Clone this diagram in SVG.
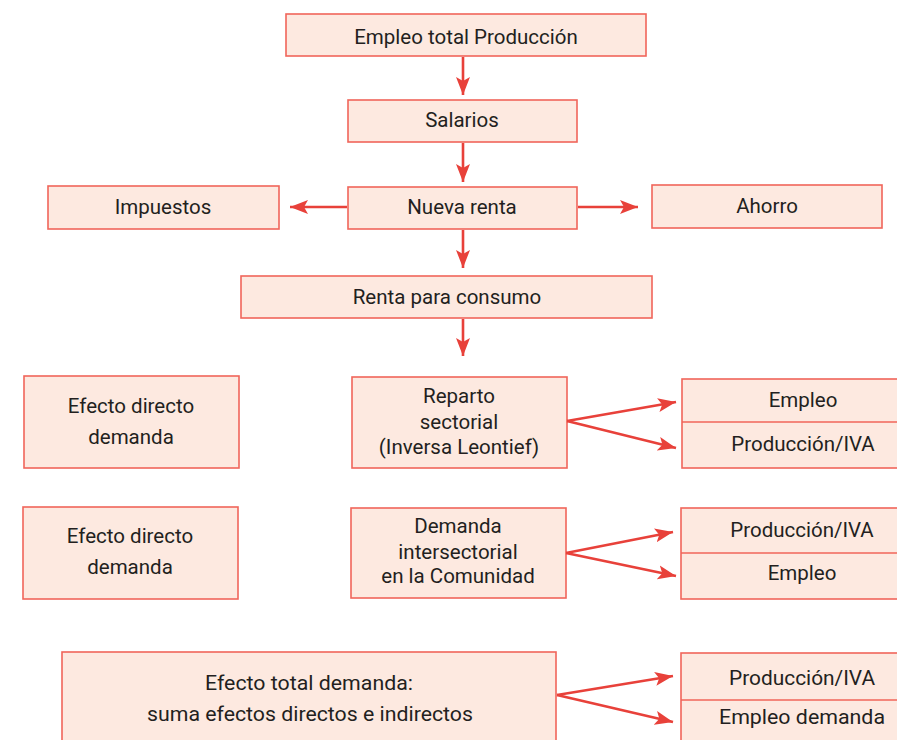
<svg xmlns="http://www.w3.org/2000/svg" width="897" height="740" viewBox="0 0 897 740">
<defs>
<style>
.b{fill:#fde9e0;stroke:#f0655a;stroke-width:1.6}
.d{stroke:#f0655a;stroke-width:1.6}
.t{font-family:Roboto,"Liberation Sans",sans-serif;font-size:20.5px;font-weight:400;fill:#231f20;text-anchor:middle}
.c{stroke:#e8413a;stroke-width:2.6;fill:none}
</style>
<marker id="ah" markerUnits="userSpaceOnUse" markerWidth="20" markerHeight="16" refX="18" refY="7" orient="auto" viewBox="0 0 20 14">
<path d="M0,0 L18,7 L0,14 L4,7 Z" fill="#e8413a"/>
</marker>
</defs>
<rect width="897" height="740" fill="#fff"/>
<g id="n1"><rect class="b" x="286" y="14" width="360" height="42"/><text class="t" x="466" y="43.5">Empleo total Producción</text></g>
<g id="n2"><rect class="b" x="348" y="100" width="229" height="42"/><text class="t" x="462" y="127">Salarios</text></g>
<g id="n3"><rect class="b" x="348" y="187" width="229" height="42"/><text class="t" x="462" y="214">Nueva renta</text></g>
<g id="n4"><rect class="b" x="48" y="186" width="231" height="43"/><text class="t" x="163" y="214">Impuestos</text></g>
<g id="n5"><rect class="b" x="652" y="185" width="230" height="43"/><text class="t" x="767" y="213">Ahorro</text></g>
<g id="n6"><rect class="b" x="241" y="276" width="411" height="42"/><text class="t" x="447" y="304">Renta para consumo</text></g>
<g id="n7"><rect class="b" x="24" y="376" width="215" height="92"/><text class="t" x="131" y="413">Efecto directo</text><text class="t" x="131" y="444">demanda</text></g>
<g id="n8"><rect class="b" x="352" y="377" width="215" height="91"/><text class="t" x="459" y="403">Reparto</text><text class="t" x="459" y="429">sectorial</text><text class="t" x="459" y="454">(Inversa Leontief)</text></g>
<g id="n9"><rect class="b" x="682" y="379" width="220" height="89"/><line class="d" x1="682" y1="422" x2="902" y2="422"/><text class="t" x="803" y="407">Empleo</text><text class="t" x="803" y="451">Producción/IVA</text></g>
<g id="n10"><rect class="b" x="23" y="507" width="215" height="92"/><text class="t" x="130" y="543">Efecto directo</text><text class="t" x="130" y="574">demanda</text></g>
<g id="n11"><rect class="b" x="351" y="508" width="215" height="90"/><text class="t" x="458" y="533">Demanda</text><text class="t" x="458" y="559">intersectorial</text><text class="t" x="458" y="583">en la Comunidad</text></g>
<g id="n12"><rect class="b" x="681" y="508" width="221" height="91"/><line class="d" x1="681" y1="553" x2="902" y2="553"/><text class="t" x="802" y="537">Producción/IVA</text><text class="t" x="802" y="580">Empleo</text></g>
<g id="n13"><rect class="b" x="62" y="652" width="494" height="95"/><text class="t" x="309" y="690" textLength="208" lengthAdjust="spacingAndGlyphs">Efecto total demanda:</text><text class="t" x="310" y="721" textLength="326" lengthAdjust="spacingAndGlyphs">suma efectos directos e indirectos</text></g>
<g id="n14"><rect class="b" x="681" y="653" width="221" height="95"/><line class="d" x1="681" y1="700" x2="902" y2="700"/><text class="t" x="802" y="685" textLength="146" lengthAdjust="spacingAndGlyphs">Producción/IVA</text><text class="t" x="802" y="724" textLength="166" lengthAdjust="spacingAndGlyphs">Empleo demanda</text></g>
<g id="connectors">
<line class="c" x1="463" y1="57" x2="463" y2="95" marker-end="url(#ah)"/>
<line class="c" x1="463" y1="143" x2="463" y2="182" marker-end="url(#ah)"/>
<line class="c" x1="347" y1="207" x2="290" y2="207" marker-end="url(#ah)"/>
<line class="c" x1="578" y1="207" x2="638" y2="207" marker-end="url(#ah)"/>
<line class="c" x1="463" y1="230" x2="463" y2="268" marker-end="url(#ah)"/>
<line class="c" x1="463" y1="319" x2="463" y2="356" marker-end="url(#ah)"/>
<line class="c" x1="567" y1="421" x2="676" y2="402" marker-end="url(#ah)"/>
<line class="c" x1="567" y1="421" x2="676" y2="448" marker-end="url(#ah)"/>
<line class="c" x1="566" y1="553" x2="673" y2="532" marker-end="url(#ah)"/>
<line class="c" x1="566" y1="553" x2="676" y2="576" marker-end="url(#ah)"/>
<line class="c" x1="557" y1="695" x2="673" y2="676" marker-end="url(#ah)"/>
<line class="c" x1="557" y1="695" x2="673" y2="722" marker-end="url(#ah)"/>
</g>
</svg>
